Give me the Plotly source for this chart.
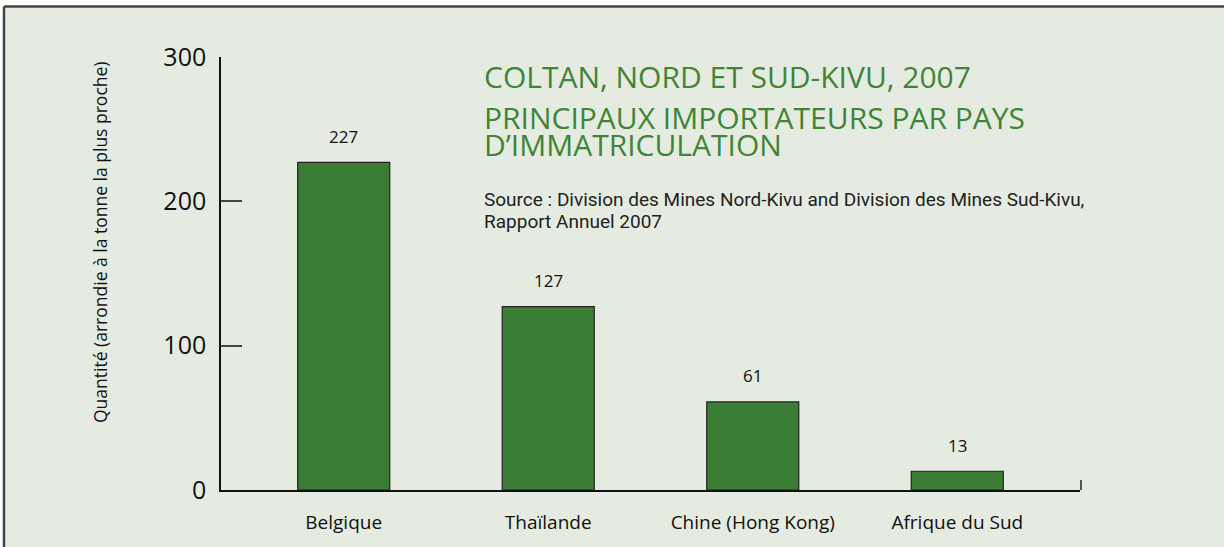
import plotly.graph_objects as go

categories = ["Belgique", "Thaïlande", "Chine (Hong Kong)", "Afrique du Sud"]
values = [227, 127, 61, 13]
y_ticks = [0, 100, 200, 300]

BG = "#e5ebe0"
GREEN = "#3b7d34"
TITLE_GREEN = "#3e8536"
FONT = "Open Sans, Noto Sans, sans-serif"
COND = "Liberation Sans Narrow, Roboto, sans-serif"

x_pos = list(range(len(categories)))

fig = go.Figure()
fig.add_trace(go.Bar(
    x=x_pos, y=values, width=0.45,
    marker=dict(color=GREEN, line=dict(color="#222222", width=1.2)),
    showlegend=False, hoverinfo="skip",
))
# invisible trace carrying the short right-hand end axis (end tick of the baseline)
fig.add_trace(go.Scatter(x=[0], y=[0], yaxis="y2", mode="markers",
                         marker=dict(opacity=0), showlegend=False, hoverinfo="skip"))

for xi, v in zip(x_pos, values):
    fig.add_annotation(x=xi, y=v, text=str(v), showarrow=False, yshift=26,
                       font=dict(family=FONT, size=17, color="#111111"))

fig.update_layout(
    width=1224, height=547,
    margin=dict(l=221, r=144, t=57, b=57),
    paper_bgcolor=BG, plot_bgcolor="rgba(0,0,0,0)",
    xaxis=dict(range=[-0.6, 3.6], tickmode="array", tickvals=x_pos, ticktext=categories,
               showline=True, linecolor="#111111", linewidth=1.5, ticks="",
               showgrid=False, zeroline=False, ticklabelstandoff=14,
               tickfont=dict(family=FONT, size=19, color="#111111"), fixedrange=True),
    yaxis=dict(range=[0, 300], tickvals=y_ticks, ticks="inside", ticklen=21,
               tickcolor="#444444", tickwidth=1.5,
               showline=True, linecolor="#111111", linewidth=1.5,
               showgrid=False, zeroline=False, ticklabelstandoff=8,
               tickfont=dict(family=FONT, size=25, color="#111111"), fixedrange=True),
    yaxis2=dict(domain=[0, 10 / 433], anchor="x", side="right", range=[0, 1],
                showline=True, linecolor="#555555", linewidth=1.5,
                showticklabels=False, ticks="", showgrid=False, zeroline=False,
                fixedrange=True),
)

TX = (482 - 221) / 859


def px(pix):
    return (pix - 221) / 859


def py(pix):
    return (490 - pix) / 433


# y-axis title
fig.add_annotation(xref="paper", yref="paper", x=px(100), y=py(242),
                   xanchor="center", yanchor="middle", showarrow=False, textangle=-90,
                   text="Quantité (arrondie à la tonne la plus proche)",
                   font=dict(family=FONT, size=17.5, color="#111111"))

# title block
fig.add_annotation(xref="paper", yref="paper", x=TX, y=py(76),
                   xanchor="left", yanchor="middle", showarrow=False,
                   text="COLTAN, NORD ET SUD-KIVU, 2007",
                   font=dict(family=FONT, size=30, color=TITLE_GREEN))
fig.add_annotation(xref="paper", yref="paper", x=TX, y=py(117),
                   xanchor="left", yanchor="middle", showarrow=False, height=27,
                   text="PRINCIPAUX IMPORTATEURS PAR PAYS",
                   font=dict(family=FONT, size=30, color=TITLE_GREEN))
fig.add_annotation(xref="paper", yref="paper", x=TX, y=py(144),
                   xanchor="left", yanchor="middle", showarrow=False, height=27,
                   text="D’IMMATRICULATION",
                   font=dict(family=FONT, size=30, color=TITLE_GREEN))
fig.add_annotation(xref="paper", yref="paper", x=TX, y=py(199),
                   xanchor="left", yanchor="middle", showarrow=False,
                   text="Source : Division des Mines Nord-Kivu and Division des Mines Sud-Kivu,",
                   font=dict(family=COND, size=19, color="#222222"))
fig.add_annotation(xref="paper", yref="paper", x=TX, y=py(222),
                   xanchor="left", yanchor="middle", showarrow=False,
                   text="Rapport Annuel 2007",
                   font=dict(family=COND, size=19, color="#222222"))

# frame: white strips and dark border lines at top/left
x0 = -221 / 859
x1 = (1224 - 221) / 859
ytop = 490 / 433
ylin = (490 - 6.5) / 433
xlin = (4 - 221) / 859
fig.add_shape(type="rect", xref="paper", yref="paper", x0=x0 - 0.01, x1=x1, y0=ylin, y1=ytop + 0.01,
              fillcolor="white", line=dict(width=0), layer="above")
fig.add_shape(type="rect", xref="paper", yref="paper", x0=x0 - 0.01, x1=xlin, y0=-1, y1=ytop + 0.01,
              fillcolor="white", line=dict(width=0), layer="above")
fig.add_shape(type="line", xref="paper", yref="paper", x0=xlin, x1=x1, y0=ylin, y1=ylin,
              line=dict(color="#444444", width=2.5), layer="above")
fig.add_shape(type="line", xref="paper", yref="paper", x0=xlin, x1=xlin, y0=-1, y1=ylin,
              line=dict(color="#444444", width=2.5), layer="above")

fig.write_html("out.html", config={"displayModeBar": False},
               post_script="document.body.style.margin='0';")
